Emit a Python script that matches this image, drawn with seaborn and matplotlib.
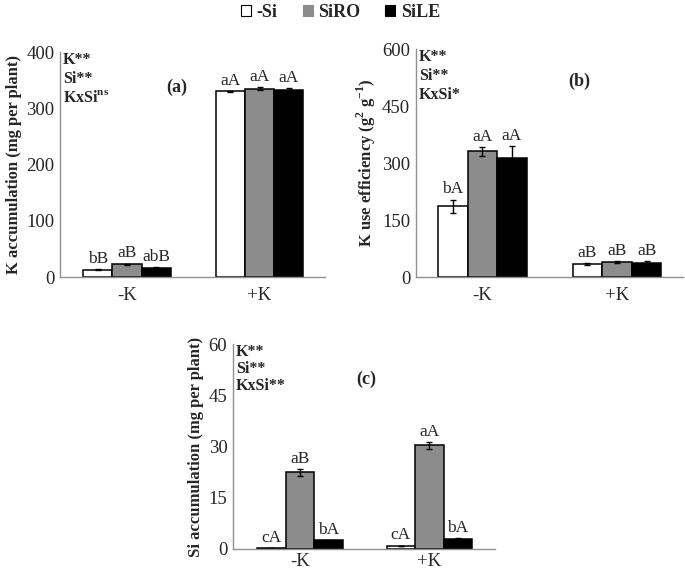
import matplotlib
matplotlib.use("Agg")
import matplotlib.pyplot as plt
import matplotlib.patches as mpatches
import numpy as np
import pandas as pd
import seaborn as sns

# K levels on the x axis and Si treatments as hue
k_levels = ["-K", "+K"]
treatments = ["-Si", "SiRO", "SiLE"]
colors = ["white", "#8c8c8c", "black"]

# (a) K accumulation (mg per plant), rows = treatments, cols = K levels
k_acc = [[13, 330], [23, 335], [16.5, 332]]
k_acc_err = [[1, 1], [1, 2.5], [2, 4]]
k_acc_lab = [["bB", "aA"], ["aB", "aA"], ["abB", "aA"]]
k_acc_stats = ["K**", "Si**", r"KxSi$^{\mathbf{ns}}$"]

# (b) K use efficiency (g2 g-1)
k_eff = [[186, 34], [331, 40], [314, 37]]
k_eff_err = [[18, 3], [12, 2], [30, 5]]
k_eff_lab = [["bA", "aB"], ["aA", "aB"], ["aA", "aB"]]
k_eff_stats = ["K**", "Si**", "KxSi*"]

# (c) Si accumulation (mg per plant)
si_acc = [[0.35, 0.9], [22.5, 30.3], [2.5, 2.9]]
si_acc_err = [[0.05, 0.1], [1.0, 1.0], [0.15, 0.2]]
si_acc_lab = [["cA", "cA"], ["aB", "aA"], ["bA", "bA"]]
si_acc_stats = ["K**", "Si**", "KxSi**"]

sns.set_style("white")
plt.rcParams["font.family"] = ["Liberation Serif", "DejaVu Serif"]
plt.rcParams["mathtext.fontset"] = "custom"
plt.rcParams["mathtext.rm"] = "Liberation Serif"
plt.rcParams["mathtext.bf"] = "Liberation Serif:bold"


def make_df(vals):
    rows = []
    for i, t in enumerate(treatments):
        for j, k in enumerate(k_levels):
            rows.append({"K": k, "Si": t, "value": vals[i][j]})
    return pd.DataFrame(rows)


def panel(ax, vals, errs, labs, stats, ylim, step, ylabel, tag, tag_xy, xlim, xpad=7):
    df = make_df(vals)
    sns.barplot(data=df, x="K", y="value", hue="Si", order=k_levels,
                hue_order=treatments, palette=colors, edgecolor="black",
                linewidth=1.1, width=0.66, errorbar=None, legend=False,
                saturation=1, ax=ax)
    bar_groups = list(ax.containers)
    for i, cont in enumerate(bar_groups):
        for j, bar in enumerate(cont):
            xc = bar.get_x() + bar.get_width() / 2
            h = bar.get_height()
            ax.errorbar(xc, h, yerr=errs[i][j], color="black", capsize=2.5,
                        lw=1, capthick=1)
            ax.annotate(labs[i][j], (xc, h + errs[i][j]), xytext=(0, 1.5),
                        textcoords="offset points", ha="center", va="bottom",
                        fontsize=12.5)
    ax.set_ylim(*ylim)
    ax.set_xlim(*xlim)
    ax.set_yticks(np.arange(ylim[0], ylim[1] + 1, step))
    ax.set_xlabel("")
    ax.set_ylabel(ylabel, fontsize=12, fontweight="bold", labelpad=3)
    ax.tick_params(axis="both", labelsize=13.5, length=0, pad=4)
    ax.tick_params(axis="x", pad=xpad)
    for s in ["top", "right"]:
        ax.spines[s].set_visible(False)
    for s in ["left", "bottom"]:
        ax.spines[s].set_color("#909090")
        ax.spines[s].set_linewidth(1)
    for n, s in enumerate(stats):
        ax.text(0.012, 1.0 - n * 0.084, s, transform=ax.transAxes,
                fontsize=11.5, fontweight="bold", va="top", ha="left")
    ax.text(tag_xy[0], tag_xy[1], tag, transform=ax.transAxes,
            fontsize=13, fontweight="bold", ha="center", va="center")


fig = plt.figure(figsize=(6.85, 5.74), dpi=100)
ax_a = fig.add_axes([0.0876, 0.5174, 0.387, 0.392])
ax_b = fig.add_axes([0.607, 0.5174, 0.39, 0.397])
ax_c = fig.add_axes([0.340, 0.0436, 0.3825, 0.357])

panel(ax_a, k_acc, k_acc_err, k_acc_lab, k_acc_stats, (0, 400), 100,
      "K accumulation (mg per plant)", "(a)", (0.44, 0.845), (-0.506, 1.494))
panel(ax_b, k_eff, k_eff_err, k_eff_lab, k_eff_stats, (0, 600), 150,
      r"K use efficiency (g$^{\mathbf{2}}$ g$^{\mathbf{-1}}$)", "(b)",
      (0.61, 0.86), (-0.494, 1.49))
panel(ax_c, si_acc, si_acc_err, si_acc_lab, si_acc_stats, (0, 60), 15,
      "Si accumulation (mg per plant)", "(c)", (0.51, 0.83), (-0.517, 1.506),
      xpad=3)

handles = [mpatches.Patch(facecolor=c, edgecolor="black" if c == "white" else c,
                          linewidth=0.8) for c in colors]
fig.legend(handles, treatments, loc="center", bbox_to_anchor=(0.497, 0.979),
           ncol=3, frameon=False, handlelength=0.55, handleheight=0.55,
           handletextpad=0.3, columnspacing=1.4,
           prop={"family": "Liberation Serif", "weight": "bold", "size": 13})

fig.savefig("out.png", dpi=100)
